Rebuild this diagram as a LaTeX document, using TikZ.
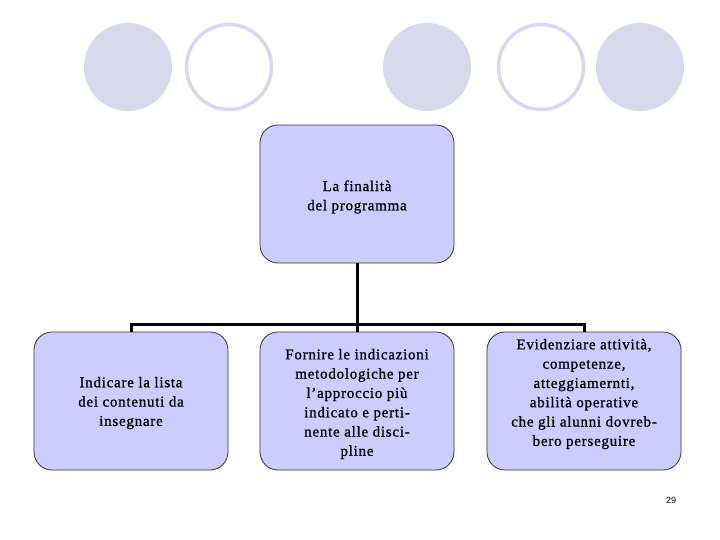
\documentclass[tikz,border=0pt]{standalone}
\usepackage{fontspec}
\setmainfont{Liberation Serif}
\setsansfont{Liberation Sans}
\newfontfamily\boxfont[LetterSpace=5,FakeBold=1]{Liberation Serif}
\begin{document}
\begin{tikzpicture}[x=1pt,y=-1pt,
  dotfill/.style={fill=dotc, draw=none},
  dotring/.style={draw=dotc, line width=3.5pt, fill=white},
  boxnode/.style={draw=black!80, line width=0.8pt, fill=boxc, rounded corners=18pt,
    minimum width=194pt, minimum height=138pt, align=center, inner sep=2pt,
    font=\boxfont\fontsize{15}{19.3}\selectfont, text width=185pt},
  conn/.style={line width=3pt, draw=black}]
\definecolor{dotc}{HTML}{D8D8EC}
\definecolor{boxc}{HTML}{CCCCFF}
\useasboundingbox (0,0) rectangle (720,540);
\fill[white] (0,0) rectangle (720,540);
% decorative circles
\fill[dotfill] (128,67) ellipse [x radius=44, y radius=44];
\draw[dotring] (229,67) ellipse [x radius=42.5, y radius=42.5];
\fill[dotfill] (427,67) ellipse [x radius=44, y radius=44];
\draw[dotring] (541,67) ellipse [x radius=42.5, y radius=42.5];
\fill[dotfill] (640,67) ellipse [x radius=44, y radius=44];
% nodes
\node[boxnode] (top) at (357,194) {};
\node[align=center, font=\boxfont\fontsize{15}{19.3}\selectfont] (toptext) at (357,197) {La finalità\\ del programma};
\node[boxnode] (b1) at (131,401) {};
\node[align=center, font=\boxfont\fontsize{15}{19.3}\selectfont] (b1text) at (131,403) {Indicare la lista\\ dei contenuti da\\ insegnare};
\node[boxnode] (b2) at (357,401) {};
\node[align=center, font=\boxfont\fontsize{15}{19.3}\selectfont] (b2text) at (357,404) {Fornire le indicazioni\\ metodologiche per\\ l’approccio più\\ indicato e perti-\\ nente alle disci-\\ pline};
\node[boxnode] (b3) at (584,401) {};
\node[align=center, font=\boxfont\fontsize{15}{19.3}\selectfont] (b3text) at (584,394) {Evidenziare attività,\\ competenze,\\ atteggiamernti,\\ abilità operative\\ che gli alunni dovreb-\\ bero perseguire};
\coordinate (bus) at (357,324);
% connectors
\draw[conn] (top.south) -- (bus);
\draw[conn] (b1.north) -- (b1.north |- bus) -- (b3.north |- bus) -- (b3.north);
\draw[conn] (bus) -- (b2.north);
\node[font=\sffamily\fontsize{9}{10}\selectfont] (pg) at (671,500) {29};
\end{tikzpicture}
\end{document}
